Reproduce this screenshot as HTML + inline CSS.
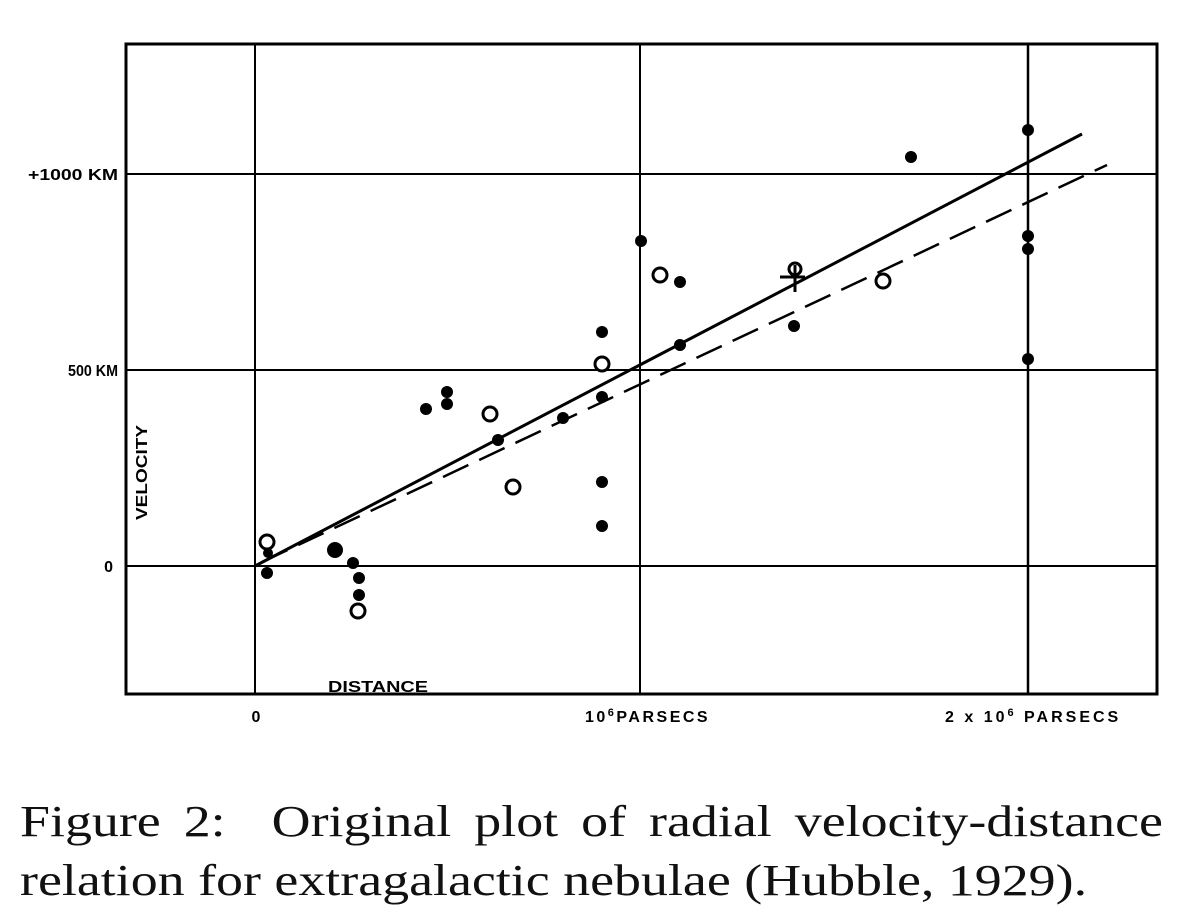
<!DOCTYPE html>
<html><head><meta charset="utf-8"><style>
html,body{margin:0;padding:0;background:#fff;width:1191px;height:918px;overflow:hidden}
svg{position:absolute;left:0;top:0}
.cap{position:absolute;left:20px;font-family:"Liberation Serif",serif;font-size:44px;color:#111;white-space:nowrap;transform-origin:0 0;transform:scaleX(1.225)}
</style></head><body>
<svg width="1191" height="918" viewBox="0 0 1191 918">
<g stroke="#000" fill="none">
<rect x="126" y="44" width="1031" height="650" stroke-width="3"/>
<line x1="255" y1="44" x2="255" y2="694" stroke-width="2"/>
<line x1="640" y1="44" x2="640" y2="694" stroke-width="2"/>
<line x1="1028" y1="44" x2="1028" y2="694" stroke-width="2.5"/>
<line x1="126" y1="174" x2="1157" y2="174" stroke-width="2"/>
<line x1="126" y1="370" x2="1157" y2="370" stroke-width="2"/>
<line x1="126" y1="566" x2="1157" y2="566" stroke-width="2"/>
<line x1="255" y1="566" x2="1082" y2="134" stroke-width="3"/>
<line x1="262" y1="562" x2="1107" y2="165" stroke-width="2.5" stroke-dasharray="28,12"/>
</g>
<g fill="#000">
<circle cx="267" cy="573" r="6"/><circle cx="268" cy="553" r="5"/>
<circle cx="335" cy="550" r="8"/><circle cx="353" cy="563" r="6"/>
<circle cx="359" cy="578" r="6"/><circle cx="359" cy="595" r="6"/>
<circle cx="426" cy="409" r="6"/><circle cx="447" cy="392" r="6"/><circle cx="447" cy="404" r="6"/>
<circle cx="498" cy="440" r="6"/><circle cx="563" cy="418" r="6"/>
<circle cx="602" cy="332" r="6"/><circle cx="602" cy="397" r="6"/>
<circle cx="602" cy="482" r="6"/><circle cx="602" cy="526" r="6"/>
<circle cx="641" cy="241" r="6"/><circle cx="680" cy="282" r="6"/><circle cx="680" cy="345" r="6"/>
<circle cx="794" cy="326" r="6"/><circle cx="911" cy="157" r="6"/>
<circle cx="1028" cy="130" r="6"/><circle cx="1028" cy="236" r="6"/><circle cx="1028" cy="249" r="6"/><circle cx="1028" cy="359" r="6"/>
</g>
<g fill="#fff" stroke="#000" stroke-width="3">
<circle cx="267" cy="542" r="7"/><circle cx="358" cy="611" r="7"/>
<circle cx="490" cy="414" r="7"/><circle cx="513" cy="487" r="7"/>
<circle cx="602" cy="364" r="7"/><circle cx="660" cy="275" r="7"/>
<circle cx="795" cy="269" r="6"/><circle cx="883" cy="281" r="7"/>
</g>
<g stroke="#000" stroke-width="3"><line x1="780" y1="277" x2="805" y2="277"/><line x1="795" y1="265" x2="795" y2="292"/></g>
<g font-family="Liberation Sans, sans-serif" font-weight="bold" font-size="16" fill="#000">
<text x="28" y="180" textLength="90" lengthAdjust="spacingAndGlyphs">+1000 KM</text>
<text x="68" y="376" textLength="50" lengthAdjust="spacingAndGlyphs">500 KM</text>
<text x="113" y="572" text-anchor="end">0</text>
<text transform="translate(147,520) rotate(-90)" textLength="95" lengthAdjust="spacingAndGlyphs">VELOCITY</text>
<text x="328" y="692" textLength="100" lengthAdjust="spacingAndGlyphs">DISTANCE</text>
<text x="256" y="722" text-anchor="middle">0</text>
<text x="585" y="722" letter-spacing="2.5">10<tspan font-size="11" dy="-6">6</tspan><tspan dy="6">PARSECS</tspan></text>
<text x="945" y="722" letter-spacing="3">2 x 10<tspan font-size="11" dy="-6">6</tspan><tspan dy="6"> PARSECS</tspan></text>
</g>
</svg>
<div class="cap" style="top:796px;width:933px;text-align:justify;text-align-last:justify">Figure 2:&nbsp; Original plot of radial velocity-distance</div>
<div class="cap" style="top:855px">relation for extragalactic nebulae (Hubble, 1929).</div>
</body></html>
